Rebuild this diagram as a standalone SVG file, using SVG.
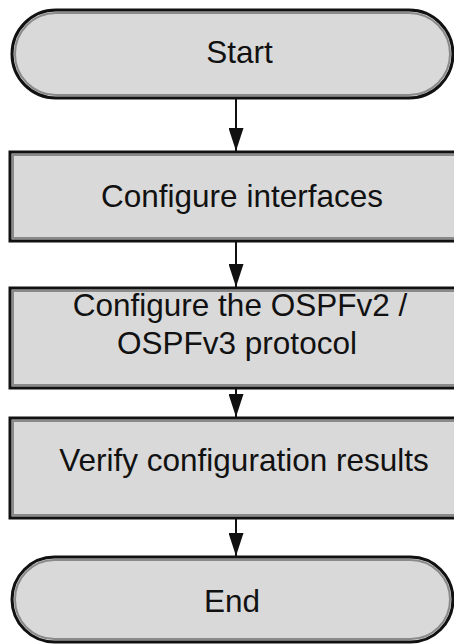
<svg xmlns="http://www.w3.org/2000/svg" width="454" height="644" viewBox="0 0 454 644">
  <style>
    .bg { fill: #ffffff; }
    .outer { fill: #d9d9d9; stroke: #111111; stroke-width: 3; }
    .inner { fill: none; stroke: #8a8a8a; stroke-width: 2; }
    .label { font-family: "Liberation Sans", Arial, sans-serif; font-size: 31.5px; fill: #111111; text-anchor: middle; }
    .conn { stroke: #111111; stroke-width: 2; fill: none; marker-end: url(#arrow); }
  </style>
  <defs>
    <!-- filled triangular arrowhead, sized in user units -->
    <marker id="arrow" markerUnits="userSpaceOnUse" markerWidth="23" markerHeight="15" refX="23" refY="7.5" orient="auto" viewBox="0 0 23 15">
      <path d="M0,0 L23,7.5 L0,15 Z" fill="#111111"/>
    </marker>
  </defs>
  <rect class="bg" x="0" y="0" width="454" height="644"/>

  <!-- flow connectors -->
  <g id="connectors">
    <line class="conn" x1="236" y1="99" x2="236" y2="151"/>
    <line class="conn" x1="236" y1="242" x2="236" y2="287"/>
    <line class="conn" x1="236" y1="389" x2="236" y2="417"/>
    <line class="conn" x1="236" y1="519" x2="236" y2="556"/>
  </g>

  <g id="start">
    <rect class="outer" x="12" y="10" width="441" height="88" rx="44" ry="44"/>
    <rect class="inner" x="15" y="13" width="435" height="82" rx="41" ry="41"/>
    <text class="label" x="239.5" y="63">Start</text>
  </g>

  <g id="configure-interfaces">
    <rect class="outer" x="10" y="152" width="470" height="89"/>
    <rect class="inner" x="13" y="155" width="470" height="83"/>
    <text class="label" x="242" y="207">Configure interfaces</text>
  </g>

  <g id="configure-ospf">
    <rect class="outer" x="10" y="288" width="470" height="100"/>
    <rect class="inner" x="13" y="291" width="470" height="94"/>
    <text class="label" x="240" y="316">Configure the OSPFv2 /</text>
    <text class="label" x="237" y="354">OSPFv3 protocol</text>
  </g>

  <g id="verify-results">
    <rect class="outer" x="10" y="418" width="470" height="100"/>
    <rect class="inner" x="13" y="421" width="470" height="94"/>
    <text class="label" x="244" y="471">Verify configuration results</text>
  </g>

  <g id="end">
    <rect class="outer" x="12" y="557" width="441" height="85" rx="42.5" ry="42.5"/>
    <rect class="inner" x="15" y="560" width="435" height="79" rx="39.5" ry="39.5"/>
    <text class="label" x="232" y="612">End</text>
  </g>
</svg>
